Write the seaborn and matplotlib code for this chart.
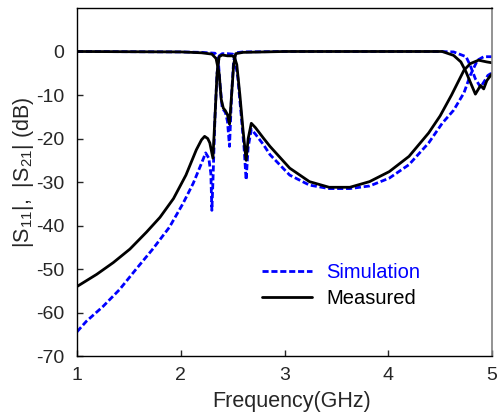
import numpy as np
import pandas as pd
import matplotlib
matplotlib.use("Agg")
import matplotlib.pyplot as plt
import seaborn as sns

# 仿真 S21
sim_s21_f = [1.0, 1.09, 1.25, 1.41, 1.57, 1.73, 1.89, 2.02, 2.12, 2.20, 2.24, 2.27, 2.29, 2.30,
             2.31, 2.33, 2.35, 2.37, 2.40, 2.45, 2.50, 2.52, 2.55, 2.58, 2.61, 2.63, 2.65, 2.68,
             2.72, 2.80, 2.86, 3.05, 3.24, 3.43, 3.63, 3.82, 4.01, 4.20, 4.39, 4.52, 4.63, 4.73,
             4.79, 4.86, 4.92, 5.0]
sim_s21_db = [-64.4, -62.0, -58.6, -54.7, -50.0, -45.4, -40.4, -35.0, -30.3, -25.7, -23.3, -24.5, -28.0, -36.5,
              -30.0, -15.0, -5.0, -1.0, -0.5, -0.5, -0.6, -1.5, -6.0, -14.0, -22.0, -29.5, -22.0, -17.9,
              -19.0, -21.5, -23.7, -28.4, -30.7, -31.5, -31.5, -30.9, -29.1, -26.0, -21.0, -16.5, -13.5, -9.5,
              -5.5, -2.0, -1.2, -1.2]

# 仿真 S11
sim_s11_f = [1.0, 2.0, 2.2, 2.33, 2.36, 2.38, 2.40, 2.43, 2.45, 2.47, 2.49, 2.51, 2.53, 2.6,
             3.0, 4.0, 4.46, 4.63, 4.75, 4.79, 4.84, 4.89, 4.93, 4.96, 5.0]
sim_s11_db = [0.0, -0.1, -0.2, -0.4, -1.5, -8.0, -13.0, -14.0, -16.0, -21.8, -10.0, -2.0, -0.3, -0.1,
              0.0, 0.0, 0.0, -0.1, -1.2, -3.2, -6.3, -8.2, -6.7, -5.5, -4.9]

# 实测 S21
mea_s21_f = [1.0, 1.19, 1.35, 1.51, 1.67, 1.80, 1.93, 2.05, 2.15, 2.20, 2.23, 2.26, 2.28, 2.31,
             2.33, 2.35, 2.37, 2.40, 2.45, 2.50, 2.52, 2.54, 2.57, 2.60, 2.63, 2.65, 2.68, 2.72,
             2.80, 2.86, 3.05, 3.24, 3.43, 3.63, 3.82, 4.01, 4.20, 4.39, 4.50, 4.61, 4.73, 4.79,
             4.87, 4.95, 5.0]
mea_s21_db = [-54.0, -51.2, -48.5, -45.4, -41.5, -38.1, -33.8, -28.4, -22.6, -20.3, -19.5, -20.0, -21.0, -24.5,
              -15.0, -5.0, -1.2, -0.8, -1.0, -1.0, -1.5, -3.0, -10.0, -18.0, -25.0, -20.0, -16.5, -17.5,
              -20.0, -21.8, -26.8, -29.9, -31.2, -31.2, -29.9, -27.6, -24.1, -18.7, -14.8, -10.0, -4.3, -2.8,
              -2.0, -2.4, -2.6]

# 实测 S11
mea_s11_f = [1.0, 2.0, 2.2, 2.30, 2.34, 2.37, 2.39, 2.41, 2.43, 2.45, 2.47, 2.49, 2.51, 2.53, 2.6,
             3.0, 4.0, 4.52, 4.63, 4.70, 4.75, 4.79, 4.84, 4.89, 4.92, 4.95, 5.0]
mea_s11_db = [0.0, -0.1, -0.3, -0.6, -1.6, -5.0, -11.0, -13.0, -13.6, -14.5, -16.7, -10.0, -3.0, -0.5, -0.2,
              0.0, 0.0, 0.0, -0.9, -2.4, -4.7, -7.0, -9.8, -7.8, -8.6, -6.7, -5.1]

sns.set_style("ticks")
plt.rcParams['font.family'] = ['Liberation Sans', 'DejaVu Sans']
plt.rcParams['mathtext.fontset'] = 'custom'
plt.rcParams['mathtext.rm'] = 'Liberation Sans'
plt.rcParams['mathtext.it'] = 'Liberation Sans'
plt.rcParams['axes.unicode_minus'] = False  # 用短横线作负号

fig = plt.figure(figsize=(5.0, 4.19), dpi=100)
ax = fig.add_axes([0.154, 0.150, 0.830, 0.831])

blue = '#0000ff'
sns.lineplot(x=sim_s21_f, y=sim_s21_db, ax=ax, color=blue, lw=2, linestyle='--',
             estimator=None, label='Simulation')
sns.lineplot(x=sim_s11_f, y=sim_s11_db, ax=ax, color=blue, lw=2, linestyle='--',
             estimator=None)
sns.lineplot(x=mea_s21_f, y=mea_s21_db, ax=ax, color='black', lw=2,
             estimator=None, label='Measured')
sns.lineplot(x=mea_s11_f, y=mea_s11_db, ax=ax, color='black', lw=2,
             estimator=None)
for ln in ax.lines:
    if ln.get_color() == blue:
        ln.set_dashes((2.2, 1.0))

ax.set_xlim(1, 5)
ax.set_ylim(-70, 10)
ax.set_xticks([1, 2, 3, 4, 5])
ax.set_yticks(np.arange(-70, 1, 10))
ax.tick_params(direction='in', length=4, width=1, labelsize=14, top=False, right=False)
ax.tick_params(axis='y', pad=9)
ax.tick_params(axis='x', pad=8)
ax.set_xlabel('Frequency(GHz)', fontsize=15.5)
ax.set_ylabel(r'|S$_{\mathregular{11}}$|,  |S$_{\mathregular{21}}$| (dB)', fontsize=15.5)
ax.xaxis.set_label_coords(0.516, -0.100)
ax.yaxis.set_label_coords(-0.100, 0.529)
for s in ['left', 'bottom', 'top']:
    ax.spines[s].set_color('black')
    ax.spines[s].set_linewidth(1)
ax.spines['right'].set_color('#808080')
ax.spines['right'].set_linewidth(1.2)

leg = ax.legend(loc='center left', bbox_to_anchor=(0.446, 0.204), frameon=False, fontsize=14.5,
                handlelength=2.5, handletextpad=0.7, labelspacing=0.35,
                borderpad=0, borderaxespad=0)
for txt, ln in zip(leg.get_texts(), leg.get_lines()):
    txt.set_color(ln.get_color())

fig.savefig('out.png', dpi=100)
